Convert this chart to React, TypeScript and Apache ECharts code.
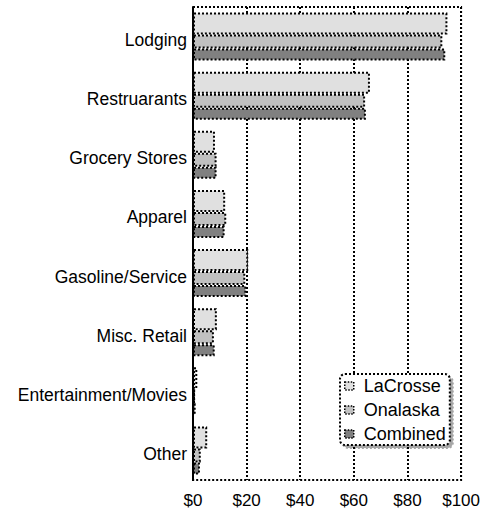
import React, { useEffect, useRef } from "react";
import * as echarts from "echarts";

const categories = [
  "Lodging",
  "Restruarants",
  "Grocery Stores",
  "Apparel",
  "Gasoline/Service",
  "Misc. Retail",
  "Entertainment/Movies",
  "Other",
];
const laCrosse = [94.9, 66.0, 8.2, 12.0, 20.6, 8.9, 1.6, 5.3];
const onalaska = [93.0, 64.2, 8.8, 12.4, 19.5, 7.8, 0.8, 2.9];
const combined = [94.1, 64.5, 8.8, 11.8, 19.9, 8.1, 1.0, 2.6];
const xTicks = [0, 20, 40, 60, 80, 100];

const FONT = "'Liberation Sans', Arial, sans-serif";

export default function App() {
  const ref = useRef<HTMLDivElement>(null);
  useEffect(() => {
    if (!ref.current) return;
    const chart = echarts.init(ref.current, null, { renderer: "svg" });
    const barStyle = (color: string) => ({
      color,
      borderColor: "#000",
      borderWidth: 2,
      borderType: "dotted" as const,
    });
    chart.setOption({
      animation: false,
      backgroundColor: "#fff",
      textStyle: { fontFamily: FONT },
      grid: {
        left: 193,
        right: 18,
        top: 7,
        bottom: 33,
        show: true,
        borderColor: "#000",
        borderWidth: 2,
        borderType: "dotted",
        backgroundColor: "transparent",
      },
      legend: {
        orient: "vertical",
        left: 340,
        top: 374,
        padding: [3, 4, 2, 4],
        itemWidth: 9,
        itemHeight: 8,
        itemGap: 6,
        icon: "rect",
        borderColor: "#000",
        borderWidth: 2,
        borderType: "dotted",
        borderRadius: 5,
        backgroundColor: "#fff",
        shadowColor: "rgba(0,0,0,0.35)",
        shadowOffsetX: 3,
        shadowOffsetY: 3,
        shadowBlur: 0,
        itemStyle: { borderColor: "#000", borderWidth: 1.5, borderType: "dotted" },
        textStyle: { fontFamily: FONT, fontSize: 18, color: "#000", padding: [0, 0, 0, 5] },
        data: ["LaCrosse", "Onalaska", "Combined"],
      },
      xAxis: {
        type: "value",
        min: 0,
        max: 100,
        interval: 20,
        axisLine: { show: false },
        axisTick: { show: false },
        splitLine: {
          show: true,
          lineStyle: { color: "#000", width: 2, type: "dotted" },
        },
        axisLabel: {
          fontFamily: FONT,
          fontSize: 17,
          color: "#000",
          margin: 12,
          formatter: (v: number) => (xTicks.includes(v) ? "$" + v : ""),
        },
      },
      yAxis: {
        type: "category",
        inverse: true,
        data: categories,
        axisLine: { show: true, lineStyle: { color: "#000", width: 2 } },
        axisTick: { show: false },
        axisLabel: {
          fontFamily: FONT,
          fontSize: 17.5,
          color: "#000",
          margin: 6,
          formatter: (v: string) => "{a|" + v + "}",
          rich: {
            a: {
              fontFamily: FONT,
              fontSize: 17.5,
              color: "#000",
              lineHeight: 18,
              padding: [7, 0, 0, 0],
            },
          },
        },
      },
      series: [
        {
          name: "LaCrosse",
          type: "bar",
          data: laCrosse,
          barWidth: 22,
          barGap: "0%",
          itemStyle: barStyle("#e0e0e0"),
        },
        {
          name: "Onalaska",
          type: "bar",
          data: onalaska,
          barWidth: 14,
          barGap: "0%",
          itemStyle: barStyle("#c0c0c0"),
        },
        {
          name: "Combined",
          type: "bar",
          data: combined,
          barWidth: 12,
          barGap: "0%",
          itemStyle: barStyle("#808080"),
        },
      ],
    });
    return () => chart.dispose();
  }, []);
  return (
    <div
      ref={ref}
      style={{ position: "fixed", left: 0, top: 0, width: 483, height: 513 }}
    />
  );
}
